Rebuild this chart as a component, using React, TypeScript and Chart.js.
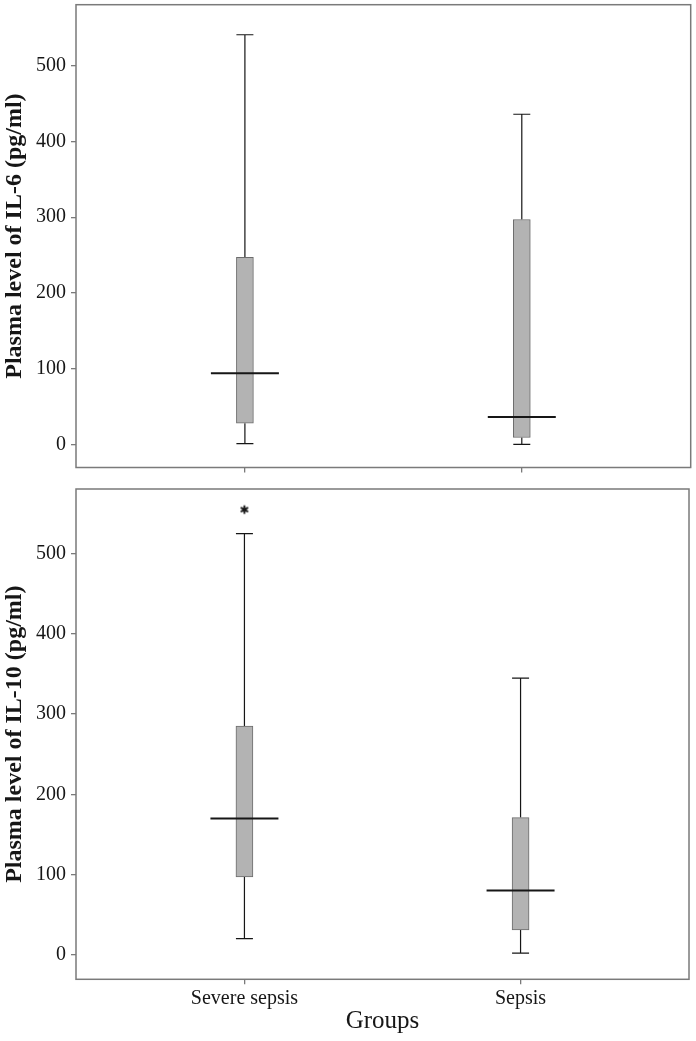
import React, { useEffect, useRef } from 'react';
import { Chart, registerables } from 'chart.js';

Chart.register(...registerables);

// ---- data ----
const categories = ['Severe sepsis', 'Sepsis'];
const groupPositions = [0, 1];
const yTickValues = [0, 100, 200, 300, 400, 500];

const il6Min = [1, 0];
const il6Q1 = [28, 9];
const il6Median = [94, 36];
const il6Q3 = [247, 297];
const il6Max = [541, 436];
const il6Outliers: number[][] = [[], []];

const il10Min = [20, 2];
const il10Q1 = [97, 31];
const il10Median = [170, 80];
const il10Q3 = [285, 171];
const il10Max = [525, 345];
const il10Outliers: number[][] = [[555], []];

const yAxisMin = -30.6;
const yAxisMax = 580.7;
const xAxisMin = -0.61;
const xAxisMax = 1.61;

// ---- styles ----
const FONT = "'Liberation Serif', 'Times New Roman', serif";
const FRAME = '#7a7a7a';
const INK = '#161616';

function makeAsterisk(): HTMLCanvasElement {
  const c = document.createElement('canvas');
  c.width = 12;
  c.height = 12;
  const ctx = c.getContext('2d')!;
  ctx.strokeStyle = INK;
  ctx.lineWidth = 1.8;
  ctx.lineCap = 'butt';
  const r = 4.2;
  for (let k = 0; k < 3; k++) {
    const a = Math.PI / 2 + (k * Math.PI) / 3;
    ctx.beginPath();
    ctx.moveTo(6 - r * Math.cos(a), 6 - r * Math.sin(a));
    ctx.lineTo(6 + r * Math.cos(a), 6 + r * Math.sin(a));
    ctx.stroke();
  }
  return c;
}

interface PanelOpts {
  min: number[];
  q1: number[];
  median: number[];
  q3: number[];
  max: number[];
  outliers: number[][];
  yTitle: string;
  showXLabels: boolean;
  padding: { top: number; right: number; bottom: number; left: number };
  xAxisHeight: number;
  star: HTMLCanvasElement;
}

function zeroScalePadding(s: any) {
  s.paddingTop = 0;
  s.paddingBottom = 0;
  s.paddingLeft = 0;
  s.paddingRight = 0;
}

function buildConfig(o: PanelOpts): any {
  const boxData = groupPositions.map((x, i) => ({ x, y: [o.q1[i], o.q3[i]] }));
  const outlierData: { x: number; y: number }[] = [];
  o.outliers.forEach((arr, i) => arr.forEach((v) => outlierData.push({ x: groupPositions[i], y: v })));

  const capHalf = 8.5;
  const medianHalf = 34;

  const boxPlugin = {
    id: 'boxWhiskers',
    beforeDatasetsDraw(chart: any) {
      const ctx = chart.ctx;
      const xs = chart.scales.x;
      const ys = chart.scales.y;
      ctx.save();
      ctx.strokeStyle = INK;
      ctx.lineWidth = 1.2;
      groupPositions.forEach((g, i) => {
        const px = xs.getPixelForValue(g);
        const yMax = ys.getPixelForValue(o.max[i]);
        const yQ3 = ys.getPixelForValue(o.q3[i]);
        const yQ1 = ys.getPixelForValue(o.q1[i]);
        const yMin = ys.getPixelForValue(o.min[i]);
        ctx.beginPath();
        ctx.moveTo(px, yQ3);
        ctx.lineTo(px, yMax);
        ctx.moveTo(px - capHalf, yMax);
        ctx.lineTo(px + capHalf, yMax);
        ctx.moveTo(px, yQ1);
        ctx.lineTo(px, yMin);
        ctx.moveTo(px - capHalf, yMin);
        ctx.lineTo(px + capHalf, yMin);
        ctx.stroke();
      });
      ctx.restore();
    },
    afterDatasetsDraw(chart: any) {
      const ctx = chart.ctx;
      const xs = chart.scales.x;
      const ys = chart.scales.y;
      ctx.save();
      ctx.strokeStyle = INK;
      ctx.lineWidth = 2;
      groupPositions.forEach((g, i) => {
        const px = xs.getPixelForValue(g);
        const ym = ys.getPixelForValue(o.median[i]);
        ctx.beginPath();
        ctx.moveTo(px - medianHalf, ym);
        ctx.lineTo(px + medianHalf, ym);
        ctx.stroke();
      });
      ctx.restore();
    },
    afterDraw(chart: any) {
      const { left, top, right, bottom } = chart.chartArea;
      const ctx = chart.ctx;
      ctx.save();
      ctx.strokeStyle = FRAME;
      ctx.lineWidth = 1.5;
      ctx.strokeRect(left, top, right - left, bottom - top);
      ctx.restore();
    },
  };

  return {
    type: 'bar',
    data: {
      datasets: [
        {
          type: 'bar',
          data: boxData,
          backgroundColor: '#b3b3b3',
          borderColor: '#6c6c6c',
          borderWidth: 1,
          borderSkipped: false,
          barThickness: 17,
          grouped: false,
        },
        {
          type: 'scatter',
          data: outlierData,
          pointStyle: o.star,
          radius: 6,
          hoverRadius: 6,
        },
      ],
    },
    options: {
      animation: false,
      responsive: false,
      maintainAspectRatio: false,
      events: [],
      layout: { padding: o.padding },
      plugins: {
        legend: { display: false },
        tooltip: { enabled: false },
      },
      scales: {
        x: {
          type: 'linear',
          min: xAxisMin,
          max: xAxisMax,
          offset: false,
          border: { display: false },
          grid: {
            display: true,
            offset: false,
            drawOnChartArea: false,
            drawTicks: true,
            tickLength: 5,
            color: FRAME,
            lineWidth: 1.3,
          },
          afterBuildTicks: (s: any) => {
            s.ticks = groupPositions.map((v) => ({ value: v }));
          },
          ticks: {
            display: o.showXLabels,
            autoSkip: false,
            maxRotation: 0,
            padding: 2,
            color: INK,
            font: { family: FONT, size: 20 },
            callback: (_v: any, idx: number) => categories[idx] ?? '',
          },
          title: {
            display: o.showXLabels,
            text: 'Groups',
            color: INK,
            font: { family: FONT, size: 25 },
            padding: { top: 0, bottom: 0 },
          },
          afterFit: (s: any) => {
            s.height = o.xAxisHeight;
            zeroScalePadding(s);
          },
        },
        y: {
          type: 'linear',
          min: yAxisMin,
          max: yAxisMax,
          border: { display: false },
          grid: {
            display: true,
            drawOnChartArea: false,
            drawTicks: true,
            tickLength: 5,
            color: FRAME,
            lineWidth: 1.3,
          },
          afterBuildTicks: (s: any) => {
            s.ticks = yTickValues.map((v) => ({ value: v }));
          },
          ticks: {
            padding: 5,
            color: INK,
            font: { family: FONT, size: 20 },
          },
          title: {
            display: true,
            text: o.yTitle,
            color: INK,
            font: { family: FONT, size: 24, weight: 'bold' },
            padding: { top: 0, bottom: 0 },
          },
          afterFit: (s: any) => {
            s.width = 76;
            zeroScalePadding(s);
          },
        },
      },
    },
    plugins: [boxPlugin],
  };
}

export default function App() {
  const topRef = useRef<HTMLCanvasElement>(null);
  const bottomRef = useRef<HTMLCanvasElement>(null);

  useEffect(() => {
    const star = makeAsterisk();
    const c1 = new Chart(
      topRef.current!,
      buildConfig({
        min: il6Min,
        q1: il6Q1,
        median: il6Median,
        q3: il6Q3,
        max: il6Max,
        outliers: il6Outliers,
        yTitle: 'Plasma level of IL-6 (pg/ml)',
        showXLabels: false,
        padding: { top: 4.7, right: 5.3, bottom: 0, left: 0 },
        xAxisHeight: 10.5,
        star,
      })
    );
    const c2 = new Chart(
      bottomRef.current!,
      buildConfig({
        min: il10Min,
        q1: il10Q1,
        median: il10Median,
        q3: il10Q3,
        max: il10Max,
        outliers: il10Outliers,
        yTitle: 'Plasma level of IL-10 (pg/ml)',
        showXLabels: true,
        padding: { top: 11, right: 6.7, bottom: 5, left: 0 },
        xAxisHeight: 56.7,
        star,
      })
    );
    return () => {
      c1.destroy();
      c2.destroy();
    };
  }, []);

  return (
    <div style={{ position: 'absolute', left: 0, top: 0, width: 696, height: 1041, background: '#fff' }}>
      <canvas
        ref={topRef}
        width={696}
        height={478}
        style={{ position: 'absolute', left: 0, top: 0, width: 696, height: 478, display: 'block' }}
      />
      <canvas
        ref={bottomRef}
        width={696}
        height={563}
        style={{ position: 'absolute', left: 0, top: 478, width: 696, height: 563, display: 'block' }}
      />
    </div>
  );
}
